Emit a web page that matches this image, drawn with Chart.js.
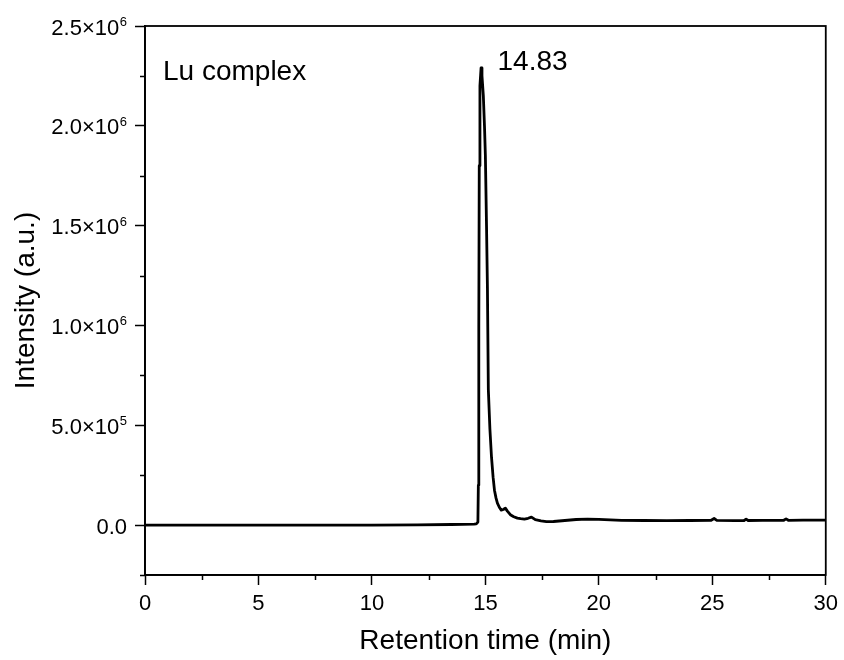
<!DOCTYPE html>
<html>
<head>
<meta charset="utf-8">
<script src="https://cdn.jsdelivr.net/npm/chart.js@4"></script>
<style>
html, body { margin: 0; padding: 0; background: #fff; }
#wrap { width: 844px; height: 660px; }
</style>
</head>
<body>
<div id="wrap"><canvas id="hplcChart" width="844" height="660"></canvas></div>
<script>
// ----------------------------
// DATA
// ----------------------------

const retentionTime = [0, 2, 4, 6, 8, 10, 12, 13.5, 14.5, 14.6, 14.67, 14.69, 14.71, 14.73, 14.76, 14.81, 14.85, 14.91, 14.96, 15.0, 15.05, 15.09, 15.13, 15.2, 15.27, 15.34, 15.4, 15.47, 15.53, 15.62, 15.7, 15.79, 15.88, 15.97, 16.1, 16.25, 16.41, 16.55, 16.72, 16.88, 17.03, 17.2, 17.45, 17.69, 18.0, 18.5, 19.0, 19.5, 20.0, 20.5, 21.0, 22.0, 23.0, 24.0, 24.95, 25.08, 25.2, 26.0, 26.4, 26.49, 26.58, 27.2, 28.15, 28.25, 28.35, 29.0, 30.0]
const intensity = [0, 0, 0, 0, 0, 0, 1000, 3000, 5000, 6000, 15000, 200000, 1000000, 1800000, 2200000, 2290000, 2250000, 2150000, 2000000, 1850000, 1500000, 1190000, 680000, 480000, 340000, 240000, 175000, 135000, 110000, 88000, 75000, 78000, 85000, 70000, 52000, 42000, 35000, 32000, 30000, 34000, 40000, 27000, 21000, 17000, 18000, 23000, 28000, 30000, 29000, 26000, 24000, 23000, 22000, 23000, 24000, 33000, 24000, 22000, 23000, 30000, 23000, 24000, 24000, 31000, 24000, 25000, 25000]

const xTickValues = [0, 5, 10, 15, 20, 25, 30]
const yTickValues = [0, 500000, 1000000, 1500000, 2000000, 2500000]
const yTickMantissa = ["0.0", "5.0\u00d710", "1.0\u00d710", "1.5\u00d710", "2.0\u00d710", "2.5\u00d710"]
const yTickExponent = ["", "5", "6", "6", "6", "6"]

const sampleLabel = "Lu complex"
const peakLabel = "14.83"
const peakTime = 14.83

const FONT = "'Liberation Sans', Arial, sans-serif"

// ------------------------------------
// FRAME, MINOR TICKS, Y LABELS, TEXT
// ------------------------------------

const framePlugin = {
    id: "frame",
    afterDraw(chart){
        const ctx = chart.ctx
        const a = chart.chartArea
        const xs = chart.scales.x
        const ys = chart.scales.y

        ctx.save()
        ctx.strokeStyle = "#000"
        ctx.lineWidth = 1.8
        ctx.strokeRect(a.left, a.top, a.right - a.left, a.bottom - a.top)

        // minor ticks (outward)
        ctx.lineWidth = 1.5
        ctx.beginPath()
        for(let v = 2.5; v < 30; v += 5){
            const px = Math.round(xs.getPixelForValue(v)) + 0.5
            ctx.moveTo(px, a.bottom)
            ctx.lineTo(px, a.bottom + 5)
        }
        for(let v = -250000; v <= 2500000; v += 500000){
            if(v < ys.min || v > ys.max) continue
            const py = Math.round(ys.getPixelForValue(v)) + 0.5
            ctx.moveTo(a.left, py)
            ctx.lineTo(a.left - 5, py)
        }
        ctx.stroke()

        // y tick labels with superscript exponent
        ctx.fillStyle = "#000"
        ctx.textBaseline = "alphabetic"
        for(let i = 0; i < yTickValues.length; i++){
            const py = ys.getPixelForValue(yTickValues[i])
            const base = py + 8.5
            let right = a.left - 18
            if(yTickExponent[i]){
                ctx.font = "13px " + FONT
                ctx.textAlign = "right"
                ctx.fillText(yTickExponent[i], right, base - 8.5)
                right -= ctx.measureText(yTickExponent[i]).width + 0.5
            }
            ctx.font = "22px " + FONT
            ctx.textAlign = "right"
            ctx.fillText(yTickMantissa[i], right, base)
        }

        // annotations
        ctx.font = "28px " + FONT
        ctx.textAlign = "left"
        ctx.fillText(sampleLabel, 163, 80)
        ctx.fillText(peakLabel, xs.getPixelForValue(peakTime) + 16, 70)
        ctx.restore()
    }
}

// ------------------------------------
// CHART.JS
// ------------------------------------

const points = retentionTime.map((t, i) => ({x: t, y: intensity[i]}))

new Chart(document.getElementById("hplcChart").getContext("2d"), {
    type: "line",
    data: {
        datasets: [{
            label: "Lu complex",
            data: points,
            borderColor: "#000",
            borderWidth: 2.8,
            borderJoinStyle: "round",
            pointRadius: 0,
            tension: 0,
            fill: false
        }]
    },
    options: {
        responsive: false,
        animation: false,
        layout: { padding: { top: 26, right: 17, left: 0, bottom: 0 } },
        plugins: {
            legend: { display: false },
            tooltip: { enabled: false }
        },
        scales: {
            x: {
                type: "linear",
                min: 0,
                max: 30,
                afterFit: s => { s.height = 85 },
                afterBuildTicks: s => { s.ticks = xTickValues.map(v => ({value: v})) },
                ticks: {
                    color: "#000",
                    font: { family: FONT, size: 22 },
                    padding: 6,
                    maxRotation: 0
                },
                grid: {
                    drawOnChartArea: false,
                    drawTicks: true,
                    tickLength: 10,
                    tickWidth: 1.5,
                    tickColor: "#000"
                },
                border: { display: true, color: "#000", width: 1.8 },
                title: {
                    display: true,
                    text: "Retention time (min)",
                    color: "#000",
                    font: { family: FONT, size: 28 },
                    padding: { top: 0, bottom: 2 }
                }
            },
            y: {
                type: "linear",
                min: -250000,
                max: 2500000,
                afterFit: s => { s.width = 145 },
                afterBuildTicks: s => { s.ticks = yTickValues.map(v => ({value: v})) },
                ticks: {
                    callback: () => "",
                    font: { family: FONT, size: 22 }
                },
                grid: {
                    drawOnChartArea: false,
                    drawTicks: true,
                    tickLength: 10,
                    tickWidth: 1.5,
                    tickColor: "#000"
                },
                border: { display: true, color: "#000", width: 1.8 },
                title: {
                    display: true,
                    text: "Intensity (a.u.)",
                    color: "#000",
                    font: { family: FONT, size: 28 },
                    padding: { top: 9, bottom: 0 }
                }
            }
        }
    },
    plugins: [framePlugin]
})
</script>
</body>
</html>
